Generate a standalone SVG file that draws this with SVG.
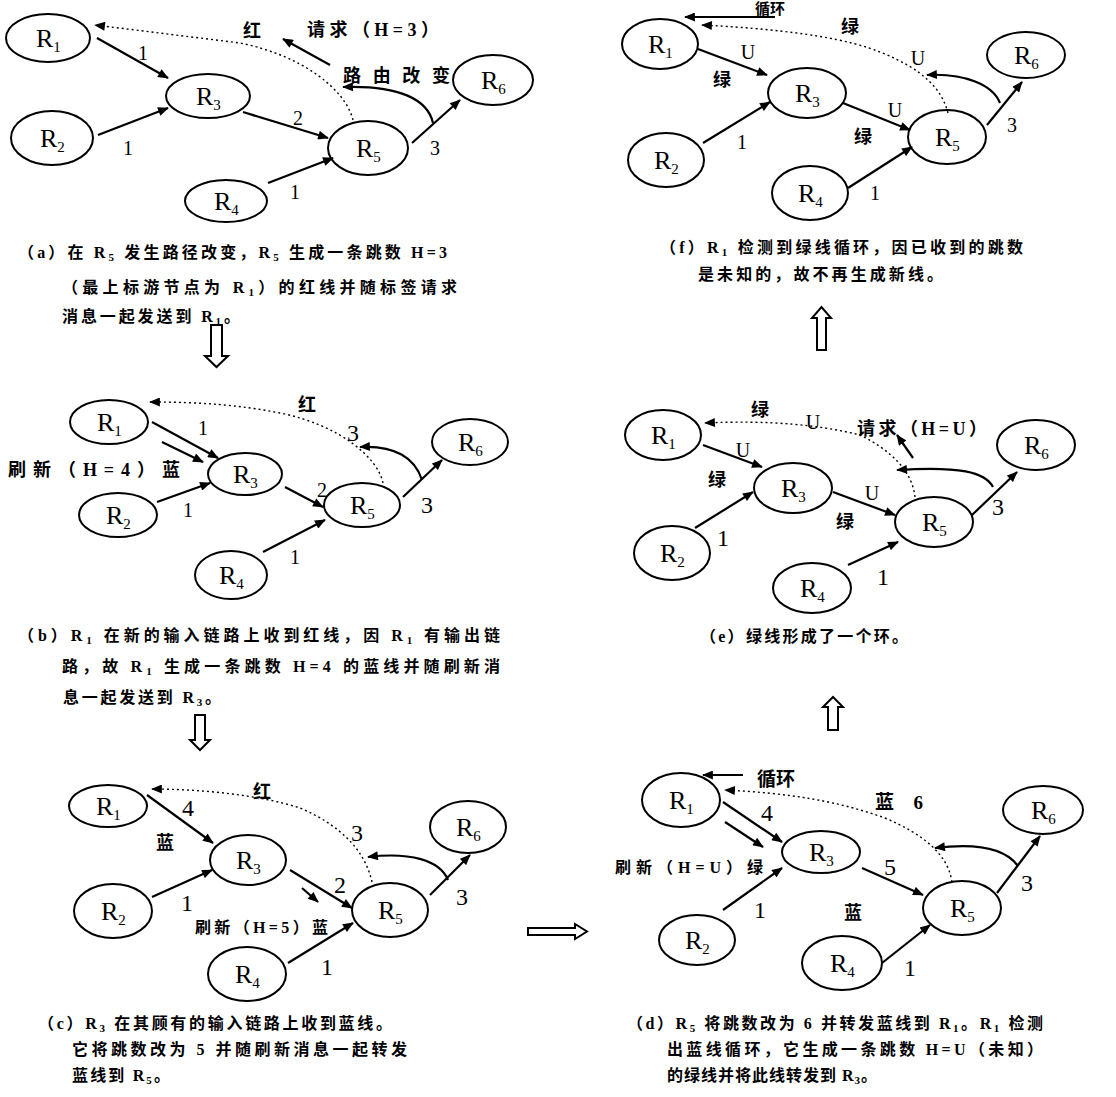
<svg xmlns="http://www.w3.org/2000/svg" width="1116" height="1097" viewBox="0 0 1116 1097">
<style>
.n ellipse{fill:#fff;stroke:#000;stroke-width:2}
.lbl{font-family:"Liberation Serif",serif;font-size:26px;fill:#000}
.sub{font-size:15px}
.num{font-family:"Liberation Serif",serif;font-size:20px;text-anchor:middle}
.big{font-size:24px}
.cj{font-family:"Liberation Serif","Noto Sans CJK SC",serif;font-size:18px;font-weight:bold}
.cap{font-family:"Liberation Serif","Noto Sans CJK SC",serif;font-size:16px;font-weight:bold}
.cs{font-size:11px}
.e{stroke:#000;stroke-width:2.2;fill:none;marker-end:url(#ah)}
.d{stroke:#000;stroke-width:1.4;stroke-dasharray:2 3;fill:none;marker-end:url(#ah)}
.bx{fill:#fff;stroke:#000;stroke-width:2}
</style>
<defs>
<marker id="ah" viewBox="0 0 12 10" refX="11" refY="5" markerWidth="12" markerHeight="9" markerUnits="userSpaceOnUse" orient="auto"><path d="M0,0 L12,5 L0,10 z" fill="#000"/></marker>
</defs>
<rect width="1116" height="1097" fill="#fff"/>

<!-- Panel a -->
<g id="a-R1" class="n"><ellipse cx="48" cy="38" rx="42" ry="24"/><text class="lbl" x="36" y="47">R<tspan class="sub" dy="5">1</tspan></text></g>
<g id="a-R2" class="n"><ellipse cx="52" cy="138" rx="41" ry="27"/><text class="lbl" x="40" y="147">R<tspan class="sub" dy="5">2</tspan></text></g>
<g id="a-R3" class="n"><ellipse cx="208" cy="96" rx="42" ry="22"/><text class="lbl" x="196" y="105">R<tspan class="sub" dy="5">3</tspan></text></g>
<g id="a-R4" class="n"><ellipse cx="226" cy="201" rx="41" ry="21"/><text class="lbl" x="214" y="210">R<tspan class="sub" dy="5">4</tspan></text></g>
<g id="a-R5" class="n"><ellipse cx="368" cy="148" rx="40" ry="27"/><text class="lbl" x="356" y="157">R<tspan class="sub" dy="5">5</tspan></text></g>
<g id="a-R6" class="n"><ellipse cx="493" cy="80" rx="40" ry="25"/><text class="lbl" x="481" y="89">R<tspan class="sub" dy="5">6</tspan></text></g>

<!-- Panel b -->
<g id="b-R1" class="n"><ellipse cx="109" cy="422" rx="39" ry="22"/><text class="lbl" x="97" y="431">R<tspan class="sub" dy="5">1</tspan></text></g>
<g id="b-R2" class="n"><ellipse cx="118" cy="515" rx="39" ry="22"/><text class="lbl" x="106" y="524">R<tspan class="sub" dy="5">2</tspan></text></g>
<g id="b-R3" class="n"><ellipse cx="245" cy="474" rx="37" ry="21"/><text class="lbl" x="233" y="483">R<tspan class="sub" dy="5">3</tspan></text></g>
<g id="b-R4" class="n"><ellipse cx="231" cy="575" rx="36" ry="24"/><text class="lbl" x="219" y="584">R<tspan class="sub" dy="5">4</tspan></text></g>
<g id="b-R5" class="n"><ellipse cx="362" cy="505" rx="38" ry="22"/><text class="lbl" x="350" y="514">R<tspan class="sub" dy="5">5</tspan></text></g>
<g id="b-R6" class="n"><ellipse cx="470" cy="442" rx="38" ry="23"/><text class="lbl" x="458" y="451">R<tspan class="sub" dy="5">6</tspan></text></g>

<!-- Panel c -->
<g id="c-R1" class="n"><ellipse cx="108" cy="806" rx="39" ry="21"/><text class="lbl" x="96" y="815">R<tspan class="sub" dy="5">1</tspan></text></g>
<g id="c-R2" class="n"><ellipse cx="113" cy="911" rx="39" ry="27"/><text class="lbl" x="101" y="920">R<tspan class="sub" dy="5">2</tspan></text></g>
<g id="c-R3" class="n"><ellipse cx="248" cy="860" rx="38" ry="25"/><text class="lbl" x="236" y="869">R<tspan class="sub" dy="5">3</tspan></text></g>
<g id="c-R4" class="n"><ellipse cx="247" cy="974" rx="39" ry="27"/><text class="lbl" x="235" y="983">R<tspan class="sub" dy="5">4</tspan></text></g>
<g id="c-R5" class="n"><ellipse cx="390" cy="910" rx="38" ry="27"/><text class="lbl" x="378" y="919">R<tspan class="sub" dy="5">5</tspan></text></g>
<g id="c-R6" class="n"><ellipse cx="468" cy="827" rx="38" ry="26"/><text class="lbl" x="456" y="836">R<tspan class="sub" dy="5">6</tspan></text></g>

<!-- Panel d -->
<g id="d-R1" class="n"><ellipse cx="681" cy="800" rx="39" ry="27"/><text class="lbl" x="669" y="809">R<tspan class="sub" dy="5">1</tspan></text></g>
<g id="d-R2" class="n"><ellipse cx="697" cy="940" rx="38" ry="25"/><text class="lbl" x="685" y="949">R<tspan class="sub" dy="5">2</tspan></text></g>
<g id="d-R3" class="n"><ellipse cx="821" cy="852" rx="39" ry="21"/><text class="lbl" x="809" y="861">R<tspan class="sub" dy="5">3</tspan></text></g>
<g id="d-R4" class="n"><ellipse cx="842" cy="963" rx="40" ry="27"/><text class="lbl" x="830" y="972">R<tspan class="sub" dy="5">4</tspan></text></g>
<g id="d-R5" class="n"><ellipse cx="962" cy="908" rx="39" ry="27"/><text class="lbl" x="950" y="917">R<tspan class="sub" dy="5">5</tspan></text></g>
<g id="d-R6" class="n"><ellipse cx="1043" cy="810" rx="40" ry="24"/><text class="lbl" x="1031" y="819">R<tspan class="sub" dy="5">6</tspan></text></g>

<!-- Panel e -->
<g id="e-R1" class="n"><ellipse cx="663" cy="435" rx="38" ry="25"/><text class="lbl" x="651" y="444">R<tspan class="sub" dy="5">1</tspan></text></g>
<g id="e-R2" class="n"><ellipse cx="672" cy="553" rx="38" ry="27"/><text class="lbl" x="660" y="562">R<tspan class="sub" dy="5">2</tspan></text></g>
<g id="e-R3" class="n"><ellipse cx="793" cy="488" rx="39" ry="25"/><text class="lbl" x="781" y="497">R<tspan class="sub" dy="5">3</tspan></text></g>
<g id="e-R4" class="n"><ellipse cx="812" cy="588" rx="39" ry="25"/><text class="lbl" x="800" y="597">R<tspan class="sub" dy="5">4</tspan></text></g>
<g id="e-R5" class="n"><ellipse cx="934" cy="522" rx="39" ry="25"/><text class="lbl" x="922" y="531">R<tspan class="sub" dy="5">5</tspan></text></g>
<g id="e-R6" class="n"><ellipse cx="1036" cy="445" rx="39" ry="25"/><text class="lbl" x="1024" y="454">R<tspan class="sub" dy="5">6</tspan></text></g>

<!-- Panel f -->
<g id="f-R1" class="n"><ellipse cx="660" cy="44" rx="38" ry="25"/><text class="lbl" x="648" y="53">R<tspan class="sub" dy="5">1</tspan></text></g>
<g id="f-R2" class="n"><ellipse cx="666" cy="160" rx="38" ry="27"/><text class="lbl" x="654" y="169">R<tspan class="sub" dy="5">2</tspan></text></g>
<g id="f-R3" class="n"><ellipse cx="807" cy="93" rx="39" ry="25"/><text class="lbl" x="795" y="102">R<tspan class="sub" dy="5">3</tspan></text></g>
<g id="f-R4" class="n"><ellipse cx="810" cy="193" rx="38" ry="27"/><text class="lbl" x="798" y="202">R<tspan class="sub" dy="5">4</tspan></text></g>
<g id="f-R5" class="n"><ellipse cx="947" cy="137" rx="39" ry="27"/><text class="lbl" x="935" y="146">R<tspan class="sub" dy="5">5</tspan></text></g>
<g id="f-R6" class="n"><ellipse cx="1026" cy="55" rx="39" ry="23"/><text class="lbl" x="1014" y="64">R<tspan class="sub" dy="5">6</tspan></text></g>

<g id="connectors">
<!-- a -->
<line class="e" x1="97" y1="38" x2="168" y2="78"/>
<line class="e" x1="98" y1="135" x2="168" y2="108"/>
<line class="e" x1="243" y1="112" x2="328" y2="138"/>
<line class="e" x1="268" y1="183" x2="333" y2="158"/>
<line class="e" x1="412" y1="143" x2="460" y2="100"/>
<line class="e" x1="330" y1="65" x2="283" y2="39"/>
<path class="d" d="M353,120 C345,88 300,55 240,43 L95,25"/>
<path class="e" d="M433,123 C428,100 400,85 343,87"/>
<!-- b -->
<line class="e" x1="152" y1="422" x2="218" y2="458"/>
<line class="e" x1="162" y1="442" x2="203" y2="462"/>
<line class="e" x1="157" y1="502" x2="210" y2="483"/>
<line class="e" x1="285" y1="487" x2="323" y2="507"/>
<line class="e" x1="263" y1="552" x2="325" y2="520"/>
<line class="e" x1="403" y1="497" x2="442" y2="460"/>
<path class="d" d="M383,483 C378,458 340,425 280,413 C240,405 200,402 150,402"/>
<path class="e" d="M422,480 C415,458 395,445 360,447"/>
<!-- c -->
<line class="e" x1="147" y1="795" x2="213" y2="843"/>
<line class="e" x1="152" y1="897" x2="212" y2="870"/>
<line class="e" x1="290" y1="870" x2="352" y2="908"/>
<line class="e" x1="302" y1="888" x2="318" y2="902"/>
<line class="e" x1="288" y1="963" x2="353" y2="923"/>
<line class="e" x1="430" y1="895" x2="470" y2="855"/>
<path class="d" d="M372,882 C365,850 340,825 300,808 C260,795 200,789 152,789"/>
<path class="e" d="M448,880 C440,860 410,852 368,857"/>
<!-- d -->
<line class="e" x1="723" y1="802" x2="782" y2="842"/>
<line class="e" x1="725" y1="822" x2="763" y2="847"/>
<line class="e" x1="723" y1="910" x2="782" y2="868"/>
<line class="e" x1="862" y1="868" x2="923" y2="895"/>
<line class="e" x1="882" y1="963" x2="930" y2="925"/>
<line class="e" x1="997" y1="893" x2="1040" y2="836"/>
<line class="e" x1="743" y1="775" x2="703" y2="775"/>
<path class="d" d="M952,882 C948,855 925,835 885,818 C835,800 785,793 725,790"/>
<path class="e" d="M1018,866 C1005,848 975,843 935,848"/>
<!-- e -->
<line class="e" x1="703" y1="445" x2="762" y2="467"/>
<line class="e" x1="695" y1="528" x2="753" y2="492"/>
<line class="e" x1="833" y1="492" x2="895" y2="515"/>
<line class="e" x1="848" y1="565" x2="898" y2="542"/>
<line class="e" x1="972" y1="515" x2="1017" y2="472"/>
<line class="e" x1="913" y1="458" x2="897" y2="435"/>
<path class="d" d="M915,497 C912,470 890,450 860,435 C820,425 770,420 705,423"/>
<path class="e" d="M993,487 C985,472 960,466 897,470"/>
<!-- f -->
<line class="e" x1="698" y1="49" x2="767" y2="75"/>
<line class="e" x1="703" y1="143" x2="770" y2="102"/>
<line class="e" x1="843" y1="103" x2="910" y2="130"/>
<line class="e" x1="848" y1="188" x2="912" y2="147"/>
<line class="e" x1="987" y1="125" x2="1022" y2="82"/>
<line class="e" x1="775" y1="17" x2="685" y2="17"/>
<path class="d" d="M948,113 C942,90 925,70 880,52 C850,40 800,30 702,25"/>
<path class="e" d="M1000,103 C993,85 965,73 927,75"/>
</g>

<!-- transition arrows -->
<polygon class="bx" points="211,325 222,325 222,356 228,356 216.5,367 205,356 211,356"/>
<polygon class="bx" points="195,715 205,715 205,740 210,740 200,750 190,740 195,740"/>
<polygon class="bx" points="828,730 838,730 838,707 843,707 833,697 823,707 828,707"/>
<polygon class="bx" points="817,350 826,350 826,318 831,318 821.5,307 812,318 817,318"/>
<polygon class="bx" points="528,928 575,928 575,924 587,931.5 575,939 575,935 528,935"/>

<!-- edge labels -->
<g class="num">
<text x="143" y="60">1</text><text x="128" y="155">1</text><text x="298" y="125">2</text><text x="295" y="199">1</text><text x="435" y="155">3</text>
<text x="203" y="435">1</text><text x="188" y="517">1</text><text x="322" y="497">2</text><text x="295" y="564">1</text><text class="big" x="427" y="513">3</text><text class="big" x="353" y="441">3</text>
<text class="big" x="188" y="816">4</text><text class="big" x="187" y="911">1</text><text class="big" x="340" y="893">2</text><text class="big" x="327" y="975">1</text><text class="big" x="462" y="905">3</text><text class="big" x="357" y="841">3</text>
<text class="big" x="767" y="821">4</text><text class="big" x="890" y="875">5</text><text class="big" x="760" y="918">1</text><text class="big" x="910" y="976">1</text><text class="big" x="1027" y="891">3</text>
<text x="743" y="457">U</text><text x="813" y="429">U</text><text x="872" y="500">U</text><text class="big" x="723" y="546">1</text><text class="big" x="883" y="585">1</text><text class="big" x="998" y="515">3</text>
<text x="748" y="59">U</text><text x="918" y="65">U</text><text x="895" y="117">U</text><text x="742" y="149">1</text><text x="875" y="200">1</text><text x="1012" y="132">3</text>
</g>
<g class="cj">
<text x="243" y="37">红</text>
<text x="307" y="36" textLength="132" lengthAdjust="spacing">请求（H=3）</text>
<text x="343" y="82" textLength="107" lengthAdjust="spacing">路由改变</text>
<text x="298" y="411">红</text>
<text x="8" y="476" textLength="172" lengthAdjust="spacing">刷新（H=4）蓝</text>
<text x="253" y="798">红</text>
<text x="156" y="849">蓝</text>
<text x="195" y="933" font-size="16" textLength="133" lengthAdjust="spacing">刷新（H=5）蓝</text>
<text x="757" y="786" font-size="19">循环</text>
<text x="875" y="809" font-size="19" textLength="48" lengthAdjust="spacing">蓝 6</text>
<text x="615" y="873" font-size="16" textLength="148" lengthAdjust="spacing">刷新（H=U）绿</text>
<text x="844" y="919">蓝</text>
<text x="751" y="416">绿</text>
<text x="857" y="435" textLength="130" lengthAdjust="spacing">请求（H=U）</text>
<text x="708" y="486">绿</text>
<text x="836" y="528">绿</text>
<text x="755" y="14" font-size="15">循环</text>
<text x="841" y="33">绿</text>
<text x="713" y="86">绿</text>
<text x="854" y="143">绿</text>
</g>

<!-- captions -->
<g class="cap">
<text x="18" y="258" textLength="429" lengthAdjust="spacing">（a）在 R<tspan class="cs" dy="3">5</tspan><tspan dy="-3"> 发生路径改变，R</tspan><tspan class="cs" dy="3">5</tspan><tspan dy="-3"> 生成一条跳数 H=3</tspan></text>
<text x="62" y="293" textLength="395" lengthAdjust="spacing">（最上标游节点为 R<tspan class="cs" dy="3">1</tspan><tspan dy="-3">）的红线并随标签请求</tspan></text>
<text x="62" y="322" textLength="178" lengthAdjust="spacing">消息一起发送到 R<tspan class="cs" dy="3">1</tspan><tspan dy="-3">。</tspan></text>

<text x="18" y="641" textLength="482" lengthAdjust="spacing">（b）R<tspan class="cs" dy="3">1</tspan><tspan dy="-3"> 在新的输入链路上收到红线，因 R</tspan><tspan class="cs" dy="3">1</tspan><tspan dy="-3"> 有输出链</tspan></text>
<text x="62" y="672" textLength="438" lengthAdjust="spacing">路，故 R<tspan class="cs" dy="3">1</tspan><tspan dy="-3"> 生成一条跳数 H=4 的蓝线并随刷新消</tspan></text>
<text x="63" y="703" textLength="158" lengthAdjust="spacing">息一起发送到 R<tspan class="cs" dy="3">3</tspan><tspan dy="-3">。</tspan></text>

<text x="38" y="1029" textLength="354" lengthAdjust="spacing">（c）R<tspan class="cs" dy="3">3</tspan><tspan dy="-3"> 在其顾有的输入链路上收到蓝线。</tspan></text>
<text x="72" y="1055" textLength="335" lengthAdjust="spacing">它将跳数改为 5 并随刷新消息一起转发</text>
<text x="72" y="1081" textLength="98" lengthAdjust="spacing">蓝线到 R<tspan class="cs" dy="3">5</tspan><tspan dy="-3">。</tspan></text>

<text x="627" y="1029" textLength="416" lengthAdjust="spacing">（d）R<tspan class="cs" dy="3">5</tspan><tspan dy="-3"> 将跳数改为 6 并转发蓝线到 R</tspan><tspan class="cs" dy="3">1</tspan><tspan dy="-3">。R</tspan><tspan class="cs" dy="3">1</tspan><tspan dy="-3"> 检测</tspan></text>
<text x="667" y="1055" textLength="376" lengthAdjust="spacing">出蓝线循环，它生成一条跳数 H=U（未知）</text>
<text x="667" y="1081" textLength="210" lengthAdjust="spacing">的绿线并将此线转发到 R<tspan class="cs" dy="3">3</tspan><tspan dy="-3">。</tspan></text>

<text x="700" y="642" textLength="208" lengthAdjust="spacing">（e）绿线形成了一个环。</text>

<text x="660" y="253" textLength="363" lengthAdjust="spacing">（f）R<tspan class="cs" dy="3">1</tspan><tspan dy="-3"> 检测到绿线循环，因已收到的跳数</tspan></text>
<text x="698" y="280" textLength="245" lengthAdjust="spacing">是未知的，故不再生成新线。</text>
</g>
</svg>
